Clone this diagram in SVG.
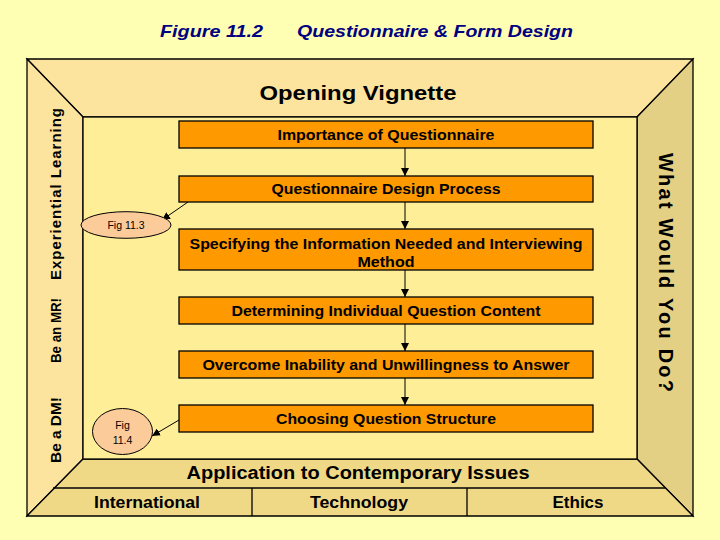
<svg xmlns="http://www.w3.org/2000/svg" width="720" height="540" viewBox="0 0 720 540">
<defs>
<style>
.frame{stroke:#000;stroke-width:1.3;}
.box{fill:#FF9900;stroke:#000;stroke-width:1.3;}
.btxt{font-family:"Liberation Sans",Arial,sans-serif;font-size:14.5px;font-weight:bold;fill:#000;text-anchor:middle;}
.big{font-family:"Liberation Sans",Arial,sans-serif;font-weight:bold;fill:#000;text-anchor:middle;}
.side{font-family:"Liberation Sans",Arial,sans-serif;font-size:15px;font-weight:bold;fill:#000;}
.wwyd{font-family:"Liberation Sans",Arial,sans-serif;font-size:20px;font-weight:bold;fill:#000;}
.fig{fill:#FCCB9A;stroke:#000;stroke-width:1;}
.ftxt{font-family:"Liberation Sans",Arial,sans-serif;font-size:10.5px;fill:#000;text-anchor:middle;}
.conn{stroke:#000;stroke-width:1;fill:none;marker-end:url(#ah);}
</style>
<marker id="ah" viewBox="0 0 10 10" refX="10" refY="5" markerWidth="8" markerHeight="8" markerUnits="userSpaceOnUse" orient="auto">
<path d="M0,0 L10,5 L0,10 z" fill="#000"/>
</marker>
</defs>
<rect width="720" height="540" fill="#FFFFB3"/>
<g id="title">
<text x="160" y="37" font-family="Liberation Sans,Arial,sans-serif" font-size="17" font-weight="bold" font-style="italic" fill="#000080" textLength="103" lengthAdjust="spacingAndGlyphs">Figure 11.2</text>
<text x="297" y="37" font-family="Liberation Sans,Arial,sans-serif" font-size="17" font-weight="bold" font-style="italic" fill="#000080" textLength="276" lengthAdjust="spacingAndGlyphs">Questionnaire &amp; Form Design</text>
</g>
<g id="frame">
<polygon class="frame" points="27,59 693,59 637,117 83,117" fill="#FDE49E"/>
<polygon class="frame" points="27,59 83,117 83,459 27,516" fill="#FDE49E"/>
<polygon class="frame" points="693,59 693,516 637,459 637,117" fill="#E3D084"/>
<polygon class="frame" points="27,516 83,459 637,459 693,516" fill="#EFD987"/>
<rect class="frame" x="83" y="117" width="554" height="342" fill="#FEEE98"/>
<line class="frame" x1="53" y1="488" x2="665" y2="488"/>
<line class="frame" x1="252" y1="488" x2="252" y2="516"/>
<line class="frame" x1="467" y1="488" x2="467" y2="516"/>
</g>
<g id="opening"><text class="big" x="358" y="100" font-size="20" textLength="197" lengthAdjust="spacingAndGlyphs">Opening Vignette</text></g>
<g id="application"><text class="big" x="358" y="479" font-size="18" textLength="343" lengthAdjust="spacingAndGlyphs">Application to Contemporary Issues</text></g>
<g id="international"><text class="big" x="147" y="508" font-size="16" textLength="106" lengthAdjust="spacingAndGlyphs">International</text></g>
<g id="technology"><text class="big" x="359" y="508" font-size="16" textLength="98" lengthAdjust="spacingAndGlyphs">Technology</text></g>
<g id="ethics"><text class="big" x="578" y="508" font-size="16" textLength="51" lengthAdjust="spacingAndGlyphs">Ethics</text></g>
<g id="left-labels">
<text class="side" transform="translate(61,463) rotate(-90)" textLength="66" lengthAdjust="spacingAndGlyphs">Be a DM!</text>
<text class="side" transform="translate(61,363) rotate(-90)" textLength="65" lengthAdjust="spacingAndGlyphs">Be an MR!</text>
<text class="side" transform="translate(61,280) rotate(-90)" textLength="172" lengthAdjust="spacing">Experiential  Learning</text>
</g>
<g id="what-would"><text class="wwyd" transform="translate(659,153) rotate(90)" textLength="239" lengthAdjust="spacing">What Would You Do?</text></g>
<g id="connectors">
<line class="conn" x1="405" y1="148" x2="405" y2="176"/>
<line class="conn" x1="405" y1="202" x2="405" y2="229"/>
<line class="conn" x1="405" y1="270" x2="405" y2="297"/>
<line class="conn" x1="405" y1="324" x2="405" y2="351"/>
<line class="conn" x1="405" y1="378" x2="405" y2="405"/>
<line class="conn" x1="188" y1="202" x2="162" y2="220"/>
<line class="conn" x1="179" y1="420" x2="152" y2="436"/>
</g>
<g id="n1"><rect class="box" x="179" y="121" width="414" height="27"/><text class="btxt" x="386" y="140" textLength="217" lengthAdjust="spacingAndGlyphs">Importance of Questionnaire</text></g>
<g id="n2"><rect class="box" x="179" y="176" width="414" height="26"/><text class="btxt" x="386" y="194" textLength="229" lengthAdjust="spacingAndGlyphs">Questionnaire Design Process</text></g>
<g id="n3"><rect class="box" x="179" y="229" width="414" height="41"/><text class="btxt" x="386" y="249" textLength="393" lengthAdjust="spacingAndGlyphs">Specifying the Information Needed and Interviewing</text><text class="btxt" x="386" y="267" textLength="57" lengthAdjust="spacingAndGlyphs">Method</text></g>
<g id="n4"><rect class="box" x="179" y="297" width="414" height="27"/><text class="btxt" x="386" y="316" textLength="309" lengthAdjust="spacingAndGlyphs">Determining Individual Question Content</text></g>
<g id="n5"><rect class="box" x="179" y="351" width="414" height="27"/><text class="btxt" x="386" y="370" textLength="367" lengthAdjust="spacingAndGlyphs">Overcome Inability and Unwillingness to Answer</text></g>
<g id="n6"><rect class="box" x="179" y="405" width="414" height="27"/><text class="btxt" x="386" y="424" textLength="220" lengthAdjust="spacingAndGlyphs">Choosing Question Structure</text></g>
<g id="fig113"><ellipse class="fig" cx="126" cy="225" rx="45" ry="13.3"/><text class="ftxt" x="126" y="229">Fig 11.3</text></g>
<g id="fig114"><ellipse class="fig" cx="122.5" cy="431.5" rx="30" ry="23"/><text class="ftxt" x="122.5" y="429">Fig</text><text class="ftxt" x="122.5" y="444">11.4</text></g>
</svg>
